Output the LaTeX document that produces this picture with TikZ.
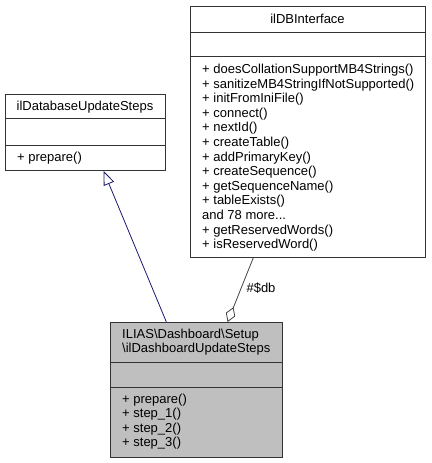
\documentclass[tikz,border=0pt]{standalone}
\usepackage{fontspec}
\setmainfont{Liberation Sans}
\usetikzlibrary{arrows.meta,calc}
\definecolor{edgegray}{HTML}{404040}
\definecolor{genblue}{HTML}{191970}
\definecolor{boxfill}{HTML}{BFBFBF}
\begin{document}
\begin{tikzpicture}[x=1bp,y=-1bp,
 classbox/.style={draw=black!80, line width=0.9bp, rectangle, inner sep=0, anchor=north west},
 boxline/.style={draw=black!80, line width=0.9bp},
 txt/.style={font=\fontsize{13bp}{14.6bp}\selectfont, inner sep=0, anchor=base west},
 htxt/.style={txt, anchor=base},
 gen/.style={draw=genblue, line width=0.8bp, -{Triangle[open,fill=white,length=14bp,width=11bp]}},
 agg/.style={draw=edgegray, line width=0.8bp, {Diamond[open,fill=white,length=16bp,width=10bp]}-}]
\useasboundingbox (0,0) rectangle (431,463);

% ilDBInterface
\node[classbox, fill=white, minimum width=235bp, minimum height=251bp] (dbi) at (190,6) {};
\draw[boxline] (dbi.west |- 0,32) -- (dbi.east |- 0,32);
\draw[boxline] (dbi.west |- 0,56) -- (dbi.east |- 0,56);
\node[htxt] (dbih) at (307.5,23.5) {ilDBInterface};
\foreach \t [count=\i] in {{+ doesCollationSupportMB4Strings()}, {+ sanitizeMB4StringIfNotSupported()}, {+ initFromIniFile()}, {+ connect()}, {+ nextId()}, {+ createTable()}, {+ addPrimaryKey()}, {+ createSequence()}, {+ getSequenceName()}, {+ tableExists()}, {and 78 more{.}{.}{.}}, {+ getReservedWords()}, {+ isReservedWord()}}
  \node[txt, name=dbim\i] at (202,{73.5+14.6*(\i-1)}) {\t};

% ilDatabaseUpdateSteps
\node[classbox, fill=white, minimum width=160bp, minimum height=76bp] (dus) at (5,94) {};
\draw[boxline] (dus.west |- 0,118) -- (dus.east |- 0,118);
\draw[boxline] (dus.west |- 0,145) -- (dus.east |- 0,145);
\node[htxt] (dush) at (85,110.5) {ilDatabaseUpdateSteps};
\node[txt] (dusm1) at (17,161.5) {+ prepare()};

% ILIAS\Dashboard\Setup\ilDashboardUpdateSteps
\node[classbox, fill=boxfill, minimum width=172bp, minimum height=135bp] (upd) at (110,322) {};
\draw[boxline] (upd.west |- 0,362) -- (upd.east |- 0,362);
\draw[boxline] (upd.west |- 0,387) -- (upd.east |- 0,387);
\node[txt] (updh1) at (122,338.5) {ILIAS\textbackslash Dashboard\textbackslash Setup};
\node[txt] (updh2) at (122,352.5) {\textbackslash ilDashboardUpdateSteps};
\foreach \t [count=\i] in {{+ prepare()}, {+ step\_1()}, {+ step\_2()}, {+ step\_3()}}
  \node[txt, name=updm\i] at (122,{403+14.5*(\i-1)}) {\t};

% generalization
\draw[gen] ($(upd.north west)!0.326!(upd.north east)$) -- ($(dus.south west)!0.6125!(dus.south east)$);

% aggregation
\draw[agg] ($(upd.north west)!0.68!(upd.north east)$) -- ($(dbi.south west)!0.268!(dbi.south east)$);
\node[txt, anchor=base] (dblbl) at (261,292.5) {\#\$db};
\end{tikzpicture}
\end{document}
